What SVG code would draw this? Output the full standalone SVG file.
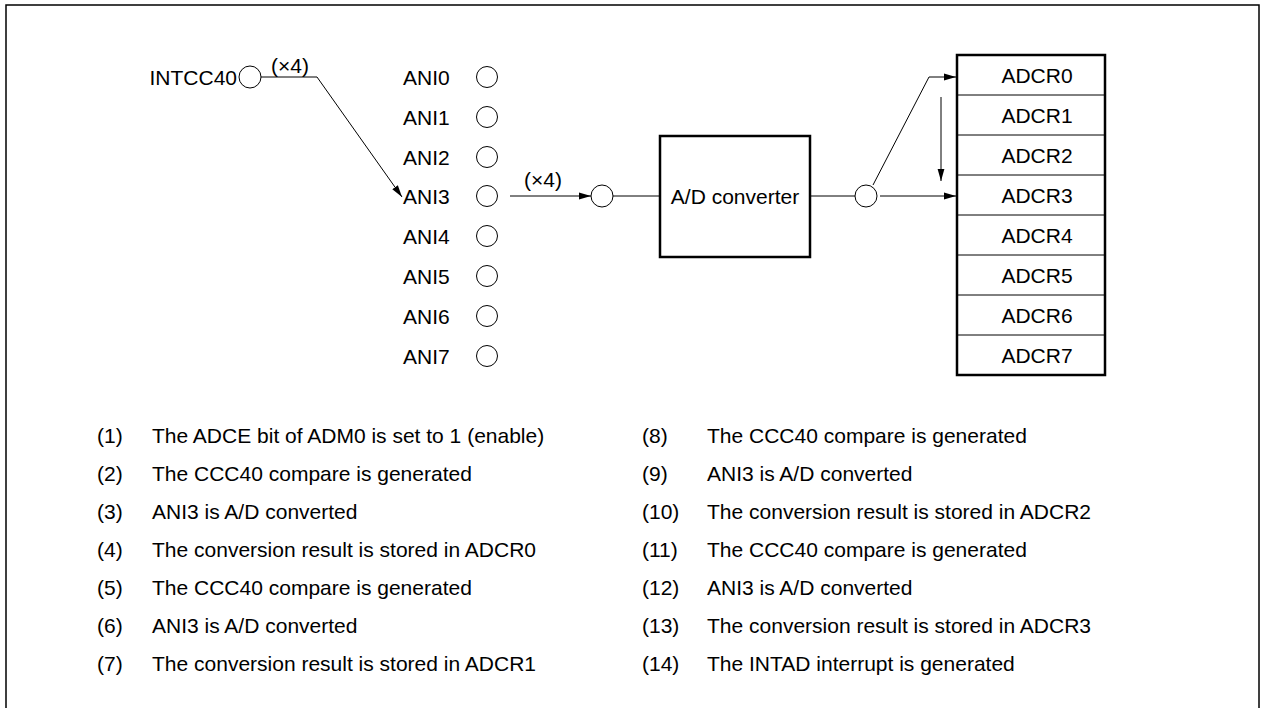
<svg xmlns="http://www.w3.org/2000/svg" width="1261" height="708" viewBox="0 0 1261 708">
<defs>
<marker id="ah" markerWidth="12" markerHeight="8" refX="12" refY="4" orient="auto" markerUnits="userSpaceOnUse">
<path d="M0,0.6 L12,4 L0,7.4 Z" fill="#000"/>
</marker>
<style>
text{font-family:"Liberation Sans",Arial,sans-serif;font-size:21px;fill:#000}
.c{fill:#fff;stroke:#000;stroke-width:1}
.ln{fill:none;stroke:#000;stroke-width:1}
.thick{fill:#fff;stroke:#000;stroke-width:2.5}
.mid{text-anchor:middle}
</style>
</defs>
<rect x="6" y="5" width="1253" height="720" fill="#fff" stroke="#000" stroke-width="1.5"/>
<g id="connectors">
<polyline class="ln" points="261,77 317,77 402,197" marker-end="url(#ah)"/>
<line class="ln" x1="510" y1="196" x2="591" y2="196" marker-end="url(#ah)"/>
<line class="ln" x1="613" y1="196" x2="659" y2="196"/>
<line class="ln" x1="811" y1="196" x2="855" y2="196"/>
<line class="ln" x1="880" y1="196" x2="956" y2="196" marker-end="url(#ah)"/>
<polyline class="ln" points="873,185 929,77 956,77" marker-end="url(#ah)"/>
<line class="ln" x1="941" y1="97" x2="941" y2="181" marker-end="url(#ah)"/>
<text x="271" y="73">(×4)</text>
<text x="524" y="187">(×4)</text>
</g>
<g id="intcc40">
<text x="237" y="85" text-anchor="end">INTCC40</text>
<circle class="c" cx="250" cy="77" r="11"/>
</g>
<g id="ani">
<text x="403" y="85">ANI0</text><circle class="c" cx="487" cy="77" r="10.5"/>
<text x="403" y="125">ANI1</text><circle class="c" cx="487" cy="117" r="10.5"/>
<text x="403" y="165">ANI2</text><circle class="c" cx="487" cy="157" r="10.5"/>
<text x="403" y="204">ANI3</text><circle class="c" cx="487" cy="196" r="10.5"/>
<text x="403" y="244">ANI4</text><circle class="c" cx="487" cy="236" r="10.5"/>
<text x="403" y="284">ANI5</text><circle class="c" cx="487" cy="276" r="10.5"/>
<text x="403" y="324">ANI6</text><circle class="c" cx="487" cy="316" r="10.5"/>
<text x="403" y="364">ANI7</text><circle class="c" cx="487" cy="356" r="10.5"/>
</g>
<g id="mux-out"><circle class="c" cx="602" cy="196" r="11"/></g>
<g id="adc">
<rect class="thick" x="660" y="136" width="150" height="121"/>
<text class="mid" x="735" y="204">A/D converter</text>
</g>
<g id="adc-out"><circle class="c" cx="866" cy="196" r="11"/></g>
<g id="adcr">
<rect class="thick" x="957" y="55" width="148" height="320"/>
<line class="ln" x1="957" y1="95" x2="1105" y2="95"/>
<line class="ln" x1="957" y1="135" x2="1105" y2="135"/>
<line class="ln" x1="957" y1="175" x2="1105" y2="175"/>
<line class="ln" x1="957" y1="215" x2="1105" y2="215"/>
<line class="ln" x1="957" y1="255" x2="1105" y2="255"/>
<line class="ln" x1="957" y1="295" x2="1105" y2="295"/>
<line class="ln" x1="957" y1="335" x2="1105" y2="335"/>
<text class="mid" x="1037" y="83">ADCR0</text>
<text class="mid" x="1037" y="123">ADCR1</text>
<text class="mid" x="1037" y="163">ADCR2</text>
<text class="mid" x="1037" y="203">ADCR3</text>
<text class="mid" x="1037" y="243">ADCR4</text>
<text class="mid" x="1037" y="283">ADCR5</text>
<text class="mid" x="1037" y="323">ADCR6</text>
<text class="mid" x="1037" y="363">ADCR7</text>
</g>
<g id="steps">
<text x="97" y="443">(1)</text><text x="152" y="443">The ADCE bit of ADM0 is set to 1 (enable)</text>
<text x="97" y="481">(2)</text><text x="152" y="481">The CCC40 compare is generated</text>
<text x="97" y="519">(3)</text><text x="152" y="519">ANI3 is A/D converted</text>
<text x="97" y="557">(4)</text><text x="152" y="557">The conversion result is stored in ADCR0</text>
<text x="97" y="595">(5)</text><text x="152" y="595">The CCC40 compare is generated</text>
<text x="97" y="633">(6)</text><text x="152" y="633">ANI3 is A/D converted</text>
<text x="97" y="671">(7)</text><text x="152" y="671">The conversion result is stored in ADCR1</text>
<text x="642" y="443">(8)</text><text x="707" y="443">The CCC40 compare is generated</text>
<text x="642" y="481">(9)</text><text x="707" y="481">ANI3 is A/D converted</text>
<text x="642" y="519">(10)</text><text x="707" y="519">The conversion result is stored in ADCR2</text>
<text x="642" y="557">(11)</text><text x="707" y="557">The CCC40 compare is generated</text>
<text x="642" y="595">(12)</text><text x="707" y="595">ANI3 is A/D converted</text>
<text x="642" y="633">(13)</text><text x="707" y="633">The conversion result is stored in ADCR3</text>
<text x="642" y="671">(14)</text><text x="707" y="671">The INTAD interrupt is generated</text>
</g>
</svg>
